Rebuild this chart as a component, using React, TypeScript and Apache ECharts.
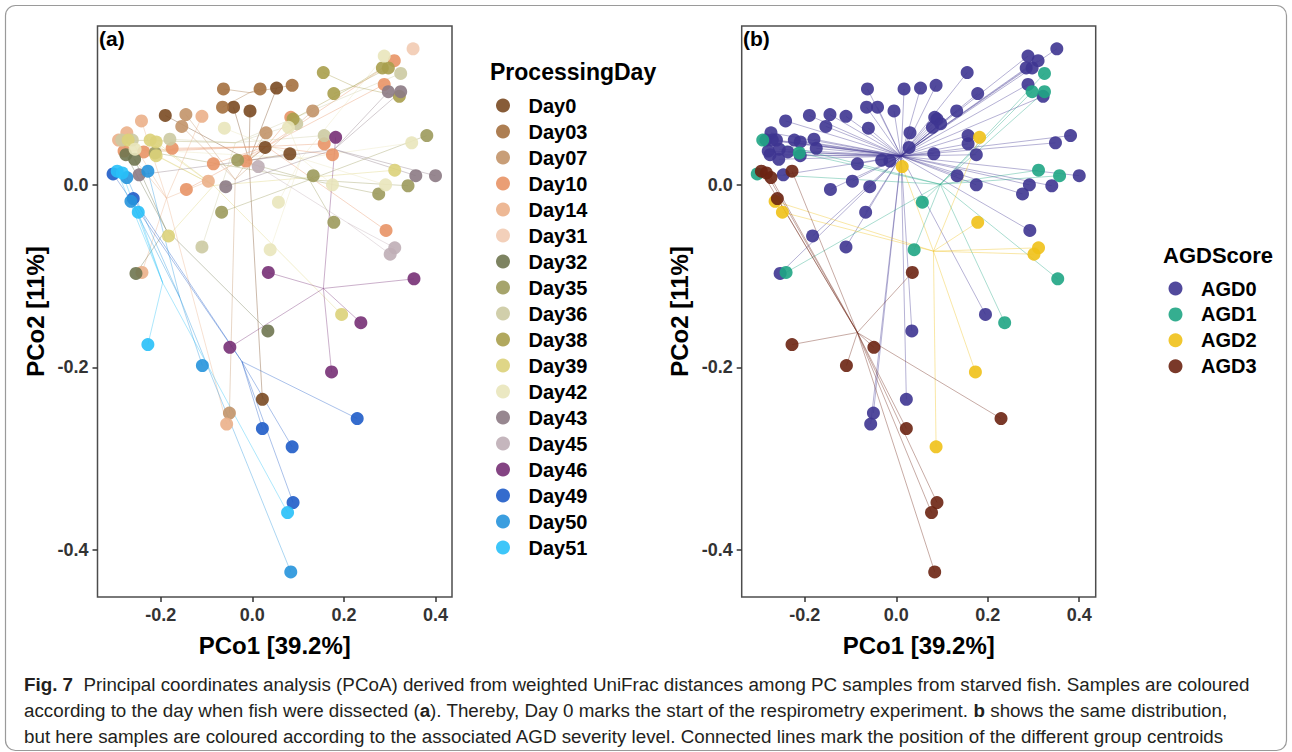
import React, { useEffect, useRef } from 'react';
import * as echarts from 'echarts';

const dayLevels = ['Day0', 'Day03', 'Day07', 'Day10', 'Day14', 'Day31', 'Day32', 'Day35', 'Day36', 'Day38', 'Day39', 'Day42', 'Day43', 'Day45', 'Day46', 'Day49', 'Day50', 'Day51'];
const dayColors = ['#7a4a22', '#a4703f', '#c29469', '#e89466', '#ebb089', '#f2cbb3', '#6f7650', '#9c9a5c', '#cccaa2', '#a99e4c', '#dcd27a', '#e9e5bb', '#8c7a84', '#bfaeb6', '#773075', '#1f5cc8', '#2694dc', '#28c0f8'];
const agdLevels = ['AGD0', 'AGD1', 'AGD2', 'AGD3'];
const agdColors = ['#3e3591', '#1fa584', '#efc118', '#6b2312'];

const pco1 = [
  0.351, 0.288, 0.310, 0.284, 0.297, 0.324, 0.155, 0.288, 0.297, 0.324,
  0.321, 0.178, -0.063, 0.017, 0.053, 0.087, -0.065, -0.041, -0.005, -0.190,
  -0.145, -0.110, -0.154, -0.242, 0.132, 0.084, 0.089, 0.097, 0.079, -0.061,
  0.030, 0.157, 0.182, 0.157, 0.381, 0.348, 0.028, 0.082, 0.175, -0.292,
  -0.274, -0.285, -0.271, -0.262, -0.223, -0.210, -0.180, -0.175, -0.237, -0.256,
  -0.276, -0.257, -0.212, -0.210, -0.280, -0.032, -0.014, -0.085, 0.013, -0.096,
  -0.144, -0.058, -0.247, -0.228, -0.304, -0.295, -0.284, -0.274, -0.260, -0.265,
  -0.249, 0.133, 0.175, 0.276, 0.291, 0.340, 0.311, 0.357, 0.400, 0.057,
  -0.067, 0.178, 0.292, 0.311, 0.301, -0.183, -0.110, 0.039, -0.254, -0.241,
  0.035, 0.353, 0.195, 0.237, 0.034, -0.049, -0.228, -0.109, 0.173, 0.022,
  -0.050, -0.056, 0.022, 0.087, 0.229, 0.089, 0.077, 0.084
];
const pco2 = [
  0.149, 0.141, 0.136, 0.128, 0.128, 0.122, 0.123, 0.110, 0.102, 0.102,
  0.097, 0.100, 0.105, 0.105, 0.106, 0.109, 0.085, 0.085, 0.081, 0.076,
  0.077, 0.075, 0.064, 0.070, 0.081, 0.074, 0.072, 0.067, 0.063, 0.062,
  0.057, 0.054, 0.052, 0.045, 0.054, 0.046, 0.041, 0.034, 0.033, 0.049,
  0.057, 0.049, 0.049, 0.049, 0.049, 0.047, 0.050, 0.040, 0.036, 0.039,
  0.033, 0.028, 0.035, 0.032, 0.037, 0.027, 0.026, 0.023, 0.020, 0.004,
  -0.005, -0.002, 0.011, 0.015, 0.012, 0.015, 0.013, 0.008, -0.015, -0.018,
  -0.030, 0.010, 0.000, -0.010, 0.000, -0.001, 0.016, 0.010, 0.010, -0.019,
  -0.030, -0.041, -0.050, -0.069, -0.076, -0.056, -0.068, -0.071, -0.097, -0.096,
  -0.096, -0.103, -0.142, -0.151, -0.160, -0.178, -0.175, -0.198, -0.205, -0.235,
  -0.250, -0.262, -0.267, -0.287, -0.256, -0.348, -0.359, -0.424
];
const processingDay = [
  'Day31', 'Day42', 'Day10', 'Day38', 'Day38', 'Day36', 'Day38', 'Day10', 'Day43', 'Day43',
  'Day38', 'Day38', 'Day03', 'Day03', 'Day0', 'Day03', 'Day03', 'Day0', 'Day0', 'Day0',
  'Day07', 'Day14', 'Day07', 'Day14', 'Day07', 'Day10', 'Day38', 'Day36', 'Day42', 'Day42',
  'Day07', 'Day36', 'Day46', 'Day10', 'Day35', 'Day42', 'Day0', 'Day0', 'Day10', 'Day14',
  'Day14', 'Day36', 'Day39', 'Day36', 'Day39', 'Day39', 'Day36', 'Day10', 'Day10', 'Day42',
  'Day32', 'Day32', 'Day35', 'Day39', 'Day10', 'Day35', 'Day10', 'Day10', 'Day45', 'Day14',
  'Day10', 'Day43', 'Day43', 'Day50', 'Day49', 'Day51', 'Day51', 'Day50', 'Day49', 'Day50',
  'Day51', 'Day35', 'Day42', 'Day35', 'Day42', 'Day35', 'Day39', 'Day43', 'Day43', 'Day42',
  'Day35', 'Day35', 'Day10', 'Day45', 'Day45', 'Day39', 'Day36', 'Day42', 'Day32', 'Day14',
  'Day46', 'Day46', 'Day39', 'Day46', 'Day32', 'Day46', 'Day51', 'Day50', 'Day46', 'Day0',
  'Day07', 'Day14', 'Day49', 'Day49', 'Day49', 'Day49', 'Day51', 'Day50'
];
const agdScore = [
  'AGD0', 'AGD0', 'AGD0', 'AGD0', 'AGD0', 'AGD1', 'AGD0', 'AGD0', 'AGD1', 'AGD1',
  'AGD0', 'AGD0', 'AGD0', 'AGD0', 'AGD0', 'AGD0', 'AGD0', 'AGD0', 'AGD0', 'AGD0',
  'AGD0', 'AGD0', 'AGD0', 'AGD0', 'AGD0', 'AGD0', 'AGD0', 'AGD0', 'AGD0', 'AGD0',
  'AGD0', 'AGD0', 'AGD2', 'AGD0', 'AGD0', 'AGD0', 'AGD0', 'AGD0', 'AGD0', 'AGD1',
  'AGD0', 'AGD0', 'AGD0', 'AGD0', 'AGD0', 'AGD0', 'AGD0', 'AGD0', 'AGD0', 'AGD0',
  'AGD0', 'AGD0', 'AGD1', 'AGD0', 'AGD0', 'AGD0', 'AGD0', 'AGD0', 'AGD2', 'AGD0',
  'AGD0', 'AGD0', 'AGD0', 'AGD3', 'AGD1', 'AGD3', 'AGD3', 'AGD3', 'AGD3', 'AGD2',
  'AGD2', 'AGD0', 'AGD0', 'AGD0', 'AGD0', 'AGD0', 'AGD1', 'AGD1', 'AGD0', 'AGD1',
  'AGD0', 'AGD2', 'AGD0', 'AGD2', 'AGD2', 'AGD0', 'AGD0', 'AGD1', 'AGD0', 'AGD1',
  'AGD3', 'AGD1', 'AGD0', 'AGD1', 'AGD0', 'AGD3', 'AGD3', 'AGD3', 'AGD2', 'AGD0',
  'AGD0', 'AGD0', 'AGD3', 'AGD2', 'AGD3', 'AGD3', 'AGD3', 'AGD3'
];

const xTicks = [-0.2, 0.0, 0.2, 0.4];
const yTicks = [-0.4, -0.2, 0.0];

const captionLines = [
  '{b|Fig. 7}  Principal coordinates analysis (PCoA) derived from weighted UniFrac distances among PC samples from starved fish. Samples are coloured',
  'according to the day when fish were dissected ({b|a}). Thereby, Day 0 marks the start of the respirometry experiment. {b|b} shows the same distribution,',
  'but here samples are coloured according to the associated AGD severity level. Connected lines mark the position of the different group centroids',
];

const FONT = "'Liberation Sans', Arial, sans-serif";

function buildGroupSeries(levels: string[], colors: string[], groupOf: string[], gridIndex: number) {
  const lines: any[] = [];
  const points: any[] = [];
  levels.forEach((lvl, i) => {
    const pts: number[][] = [];
    groupOf.forEach((g, k) => {
      if (g === lvl) pts.push([pco1[k], pco2[k]]);
    });
    if (!pts.length) return;
    const cx = pts.reduce((s, p) => s + p[0], 0) / pts.length;
    const cy = pts.reduce((s, p) => s + p[1], 0) / pts.length;
    lines.push({
      type: 'lines',
      coordinateSystem: 'cartesian2d',
      xAxisIndex: gridIndex,
      yAxisIndex: gridIndex,
      silent: true,
      z: 1,
      lineStyle: { color: colors[i], width: 1, opacity: 0.38 },
      data: pts.map((p) => ({ coords: [p, [cx, cy]] })),
    });
    points.push({
      type: 'scatter',
      name: lvl,
      xAxisIndex: gridIndex,
      yAxisIndex: gridIndex,
      symbol: 'circle',
      symbolSize: 13,
      z: 3,
      itemStyle: { color: colors[i], opacity: 0.9 },
      data: pts,
    });
  });
  return [...lines, ...points];
}

function xAxis(gridIndex: number) {
  return {
    type: 'value',
    gridIndex,
    min: -0.338,
    max: 0.436,
    axisLine: { show: false, onZero: false },
    splitLine: { show: false },
    axisTick: { show: true, customValues: xTicks, length: 5, lineStyle: { color: '#333', width: 1.5 } },
    axisLabel: {
      customValues: xTicks,
      formatter: (v: number) => v.toFixed(1),
      margin: 9,
      fontSize: 18,
      fontWeight: 'bold',
      color: '#333',
      fontFamily: FONT,
    },
    name: 'PCo1 [39.2%]',
    nameLocation: 'middle',
    nameGap: 36,
    nameTextStyle: { fontSize: 24, fontWeight: 'bold', color: '#000', fontFamily: FONT },
  };
}

function yAxis(gridIndex: number) {
  return {
    type: 'value',
    gridIndex,
    min: -0.4515,
    max: 0.174,
    axisLine: { show: false, onZero: false },
    splitLine: { show: false },
    axisTick: { show: true, customValues: yTicks, length: 5, lineStyle: { color: '#333', width: 1.5 } },
    axisLabel: {
      customValues: yTicks,
      formatter: (v: number) => v.toFixed(1),
      margin: 9,
      fontSize: 18,
      fontWeight: 'bold',
      color: '#333',
      fontFamily: FONT,
    },
    name: 'PCo2 [11%]',
    nameLocation: 'middle',
    nameGap: 50,
    nameRotate: 90,
    nameTextStyle: { fontSize: 24, fontWeight: 'bold', color: '#000', fontFamily: FONT },
  };
}

function legend(data: string[], left: number, top: number, gap: number) {
  return {
    data,
    orient: 'vertical',
    left,
    top,
    padding: 0,
    itemWidth: 41,
    itemHeight: 14,
    itemGap: gap,
    icon: 'circle',
    selectedMode: false,
    textStyle: { fontSize: 20, fontWeight: 'bold', color: '#000', fontFamily: FONT },
  };
}

export default function App() {
  const ref = useRef<HTMLDivElement>(null);
  useEffect(() => {
    if (!ref.current) return;
    const chart = echarts.init(ref.current, undefined, { renderer: 'svg' });
    const option: any = {
      animation: false,
      backgroundColor: '#fff',
      grid: [
        { left: 97.5, top: 26, width: 354.5, height: 571, show: true, borderColor: '#4d4d4d', borderWidth: 1.5, backgroundColor: 'transparent' },
        { left: 741.7, top: 26, width: 354, height: 571, show: true, borderColor: '#4d4d4d', borderWidth: 1.5, backgroundColor: 'transparent' },
      ],
      xAxis: [xAxis(0), xAxis(1)],
      yAxis: [yAxis(0), yAxis(1)],
      legend: [legend(dayLevels, 496, 95.5, 6), legend(agdLevels, 1168.5, 278.5, 5.9)],
      series: [
        ...buildGroupSeries(dayLevels, dayColors, processingDay, 0),
        ...buildGroupSeries(agdLevels, agdColors, agdScore, 1),
      ],
      graphic: [
        {
          type: 'rect',
          z: 0,
          silent: true,
          shape: { x: 5.5, y: 5.5, width: 1281, height: 745, r: 10 },
          style: { fill: 'none', stroke: '#9a9a9a', lineWidth: 1.2 },
        },
        { type: 'text', x: 99, y: 38, style: { text: '(a)', font: `bold 21px ${FONT}`, fill: '#000', verticalAlign: 'middle' } },
        { type: 'text', x: 743, y: 38, style: { text: '(b)', font: `bold 21px ${FONT}`, fill: '#000', verticalAlign: 'middle' } },
        { type: 'text', x: 490, y: 72, style: { text: 'ProcessingDay', font: `bold 23px ${FONT}`, fill: '#000', verticalAlign: 'middle' } },
        { type: 'text', x: 1163, y: 255, style: { text: 'AGDScore', font: `bold 22px ${FONT}`, fill: '#000', verticalAlign: 'middle' } },
        ...captionLines.map((t, i) => ({
          type: 'text',
          x: 24,
          y: 684 + i * 26,
          style: {
            text: t,
            font: `18.8px ${FONT}`,
            fill: '#231f20',
            verticalAlign: 'middle',
            rich: { b: { font: `bold 18.8px ${FONT}`, fill: '#231f20' } },
          },
        })),
      ],
    };
    chart.setOption(option);
    return () => chart.dispose();
  }, []);
  return <div ref={ref} style={{ position: 'absolute', left: 0, top: 0, width: 1292, height: 752 }} />;
}
